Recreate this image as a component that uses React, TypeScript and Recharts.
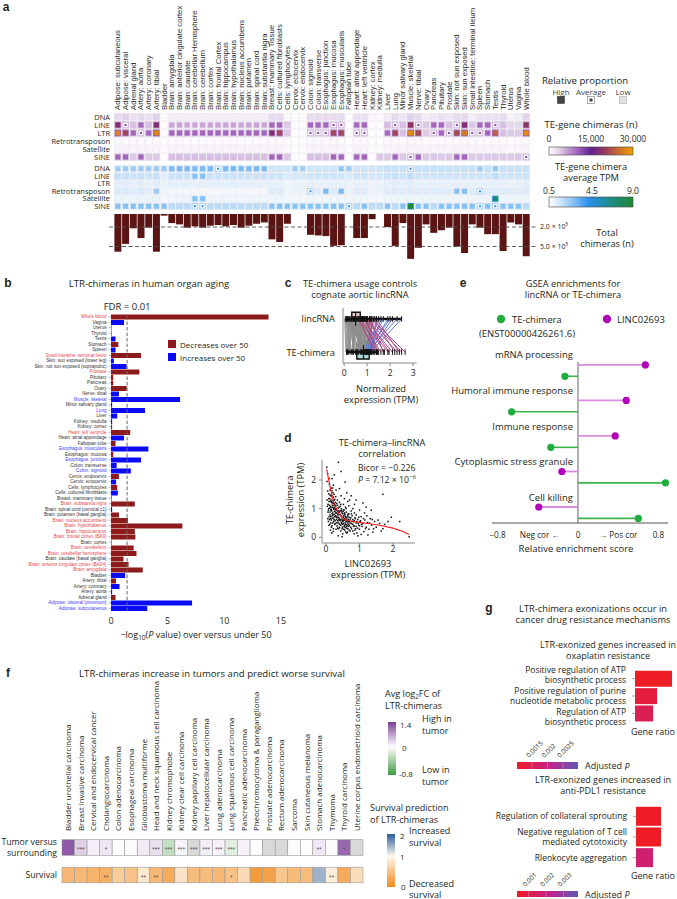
import React from 'react';
import { ScatterChart, Scatter, XAxis, YAxis, BarChart, Bar, Cell, ReferenceLine, ReferenceArea } from 'recharts';

const SANS = '"Open Sans", Roboto, "Noto Sans", sans-serif';
const ARIAL = '"Liberation Sans", Arial, sans-serif';
const INK = '#231f20';

/* ================= panel a data ================= */
const tissues = [
  'Adipose: subcutaneous', 'Adipose: visceral', 'Adrenal gland', 'Artery: aorta', 'Artery: coronary', 'Artery: tibial', 'Bladder',
  'Brain: amygdala', 'Brain: anterior cingulate cortex', 'Brain: caudate', 'Brain: cerebellar Hemisphere', 'Brain: cerebellum',
  'Brain: cortex', 'Brain: frontal Cortex', 'Brain: hippocampus', 'Brain: hypothalamus', 'Brain: nucleus accumbens',
  'Brain: putamen', 'Brain: spinal cord', 'Brain: substantia nigra',
  'Breast: mammary Tissue', 'Cells: cultured fibroblasts', 'Cells: lymphocytes', 'Cervix: ectocervix', 'Cervix: endocervix',
  'Colon: sigmoid', 'Colon: transverse', 'Esophagus: junction', 'Esophagus: mucosa', 'Esophagus: muscularis',
  'Fallopian tube', 'Heart: atrial appendage', 'Heart: left ventricle', 'Kidney: cortex', 'Kidney: medulla',
  'Liver', 'Lung', 'Minor salivary gland', 'Muscle: skeletal', 'Nerve: tibial',
  'Ovary', 'Pancreas', 'Pituitary', 'Prostate', 'Skin: not sun exposed',
  'Skin: sun exposed', 'Small intestine: terminal ileum', 'Spleen', 'Stomach', 'Testis',
  'Thyroid', 'Uterus', 'Vagina', 'Whole blood',
];
const teFamilies = ['DNA', 'LINE', 'LTR', 'Retrotransposon', 'Satellite', 'SINE'];

// TE-gene chimeras (n) per TE family and tissue
const countDNA = [3000, 3500, 2500, 3000, 2500, 3500, 300,
  1200, 1500, 1500, 1500, 1500, 1500, 1500, 1500, 1500, 1500, 1500, 1500, 1500,
  3000, 3000, 600, 400, 400, 3000, 3000, 3000, 3000, 3000, 400, 2500, 2500, 800, 500,
  1500, 3000, 2000, 3500, 3000, 1500, 2000, 2500, 2000, 3000, 3000, 1500, 2500, 2500, 2500,
  3000, 1000, 1500, 3500];
const countLINE = [18000, 12000, 4500, 10000, 4500, 18000, 300,
  6000, 6000, 6000, 6000, 6000, 6000, 6000, 6000, 6000, 6000, 6000, 6000, 6000,
  10000, 10000, 4000, 300, 300, 10000, 10000, 10000, 12000, 12000, 300, 10000, 10000, 300, 300,
  4500, 12000, 4500, 19000, 12000, 4000, 10000, 10000, 4500, 12000, 18000, 4000, 10000, 10000, 12000,
  4500, 3000, 3000, 19000];
const countLTR = [27000, 21000, 10000, 12000, 10000, 27000, 300,
  10000, 10000, 10000, 10000, 10000, 10000, 10000, 10000, 10000, 10000, 10000, 10000, 10000,
  18000, 21000, 4000, 300, 300, 12000, 12000, 12000, 21000, 21000, 300, 12000, 12000, 300, 300,
  10000, 21000, 4500, 28000, 21000, 4000, 12000, 10000, 12000, 21000, 26000, 12000, 12000, 10000, 24000,
  4500, 4000, 4000, 28000];
const countRetro = [600, 600, 500, 600, 500, 600, 200,
  400, 400, 400, 400, 400, 400, 400, 400, 400, 400, 400, 400, 400,
  500, 500, 300, 200, 200, 500, 500, 500, 500, 500, 200, 500, 500, 200, 200,
  400, 500, 400, 600, 500, 400, 400, 400, 400, 500, 500, 400, 400, 400, 500,
  500, 300, 400, 600];
const countSatellite = [1000, 1000, 900, 1000, 900, 1000, 400,
  800, 800, 800, 800, 800, 800, 800, 800, 800, 800, 800, 800, 800,
  900, 900, 500, 400, 400, 900, 900, 900, 900, 900, 400, 900, 900, 400, 400,
  800, 900, 800, 1000, 900, 800, 800, 800, 800, 900, 900, 800, 800, 800, 900,
  900, 600, 800, 1000];
const countSINE = [10000, 10000, 4000, 10000, 4000, 4000, 300,
  4500, 4500, 4500, 4500, 4500, 4500, 4500, 4500, 4500, 4500, 4500, 4500, 4500,
  10000, 10000, 4000, 300, 300, 4500, 4500, 4500, 10000, 10000, 300, 10000, 10000, 300, 4000,
  4000, 10000, 4000, 12000, 10000, 4000, 4000, 4000, 4000, 10000, 10000, 4000, 4000, 4000, 4000,
  4000, 4000, 4000, 12000];
// relative proportion class: H high, A average, L low
const propCountDNA = 'L'.repeat(54);
const propCountLINE = 'HALHLHL' + 'HHHHHHHHHHHHH' + 'HHLLL' + 'HHHAA' + 'LHHLL' + 'LALHA' + 'LHHLA' + 'HLHHA' + 'LLLH';
const propCountLTR = 'HHHAHHL' + 'HHHHHHHHHHHHH' + 'HHLLL' + 'AAAHH' + 'LAALL' + 'HHLHH' + 'LAHAH' + 'HAAHH' + 'LLLH';
const propCountRetro = 'L'.repeat(54);
const propCountSatellite = 'L'.repeat(54);
const propCountSINE = 'HHLHLLL' + 'LLLLLLLLLLLLL' + 'HHLLL' + 'LLLHH' + 'LHHLL' + 'LHLAH' + 'LLLLH' + 'HLLLL' + 'LLLA';

// TE-gene chimera average TPM
const tpmDNA = [2.6, 2.6, 2.6, 2.6, 2.6, 2.6, 2.6,
  3.2, 3.2, 3.2, 3.2, 3.2, 3.2, 4.5, 3.2, 3.2, 3.2, 3.2, 3.2, 3.2,
  1.6, 1.6, 1.5, 2.6, 2.6, 1.6, 1.6, 1.6, 1.6, 2.8, 2.6, 1.6, 1.6, 1.6, 1.6,
  1.8, 1.8, 1.8, 4.5, 1.8, 1.8, 1.8, 1.8, 1.8, 1.8, 1.8, 1.8, 2.6, 1.8, 2.8,
  1.8, 1.8, 1.8, 1.8];
const tpmLINE = [1.8, 1.8, 1.6, 1.8, 1.6, 1.8, 1.2,
  1.7, 1.7, 1.7, 3.0, 3.0, 1.7, 1.7, 1.7, 1.7, 1.7, 1.7, 1.7, 1.7,
  1.6, 1.6, 1.3, 1.5, 1.5, 1.6, 1.6, 1.6, 1.6, 1.6, 1.4, 1.6, 1.6, 1.5, 1.5,
  1.6, 1.8, 1.6, 1.9, 1.6, 1.6, 1.6, 1.6, 1.6, 1.6, 1.6, 1.6, 1.6, 1.6, 1.9,
  1.6, 1.6, 1.6, 1.7];
const tpmLTR = [1.2, 1.2, 1.1, 1.2, 1.1, 1.2, 1.0,
  1.1, 1.1, 1.1, 1.1, 1.1, 1.1, 1.1, 1.1, 1.1, 1.1, 1.1, 1.1, 1.1,
  1.1, 1.1, 0.9, 1.0, 1.0, 1.1, 1.1, 1.1, 1.1, 1.1, 1.0, 1.1, 1.1, 1.0, 1.0,
  1.1, 1.2, 1.1, 1.2, 1.1, 1.1, 1.1, 1.1, 1.1, 1.1, 1.1, 1.1, 1.1, 1.1, 1.1,
  1.1, 1.0, 1.1, 1.2];
const tpmRetro = [1.4, 1.4, 1.3, 1.4, 1.3, 2.6, 0.9,
  0.8, 0.8, 0.8, 0.8, 0.8, 0.8, 0.8, 0.8, 0.8, 0.8, 0.8, 0.8, 0.8,
  1.3, 1.3, 0.9, 1.0, 1.0, 4.5, 1.3, 3.2, 1.3, 3.2, 1.0, 1.3, 1.3, 1.0, 1.0,
  1.3, 1.3, 1.3, 1.3, 1.3, 1.3, 1.3, 1.3, 1.3, 3.0, 3.0, 1.3, 4.5, 1.3, 1.3,
  1.3, 1.3, 1.3, 1.3];
const tpmSatellite = [1.0, 1.0, 1.0, 1.0, 1.0, 1.0, 0.8,
  0.9, 0.9, 0.9, 3.0, 3.0, 0.9, 0.9, 0.9, 0.9, 0.9, 0.9, 0.9, 0.9,
  0.9, 0.9, 0.8, 0.8, 0.8, 0.9, 0.9, 0.9, 0.9, 0.9, 0.8, 0.9, 0.9, 0.8, 0.8,
  0.9, 0.9, 0.9, 0.9, 0.9, 0.9, 0.9, 0.9, 0.9, 0.9, 0.9, 0.9, 0.9, 0.9, 7.5,
  0.9, 0.9, 0.9, 0.9];
const tpmSINE = [3.0, 3.0, 3.0, 3.0, 3.0, 3.0, 3.0,
  2.0, 2.0, 2.0, 4.5, 4.5, 2.0, 2.0, 2.0, 2.0, 2.0, 2.0, 2.0, 2.0,
  3.0, 3.0, 3.0, 3.0, 3.0, 3.0, 3.0, 3.0, 3.0, 3.0, 4.5, 2.0, 3.0, 2.0, 2.0,
  3.0, 2.0, 3.0, 9.0, 3.0, 3.0, 2.0, 3.0, 3.0, 3.0, 3.0, 3.0, 4.5, 3.0, 4.5,
  3.0, 3.0, 3.0, 2.0];
const propTpmDNA = 'HHHHHHH' + 'HHHHHHAHHHHHH' + 'LLLHH' + 'LLLLH' + 'HLLLL' + 'LLLAL' + 'LLLLL' + 'LLHLH' + 'LLLL';
const propTpmLINE = 'LLLLLLL' + 'LLLHHLLLLLLLL' + 'L'.repeat(30) + 'LLLL';
const propTpmLTR = 'L'.repeat(54);
const propTpmRetro = 'LLLLLHL' + 'LLLLLLLLLLLLL' + 'LLLLL' + 'ALHLH' + 'LLLLL' + 'LLLLL' + 'LLLLH' + 'HLALL' + 'LLLL';
const propTpmSatellite = 'LLLLLLL' + 'LLLHHLLLLLLLL' + 'L'.repeat(25) + 'LLLLH' + 'LLLL';
const propTpmSINE = 'HHHHHHH' + 'LLLAALLLLLLLL' + 'HHHHH' + 'HHHHH' + 'ALHLL' + 'HLHHH' + 'HLHHH' + 'HHAHA' + 'HHHL';

const totalChimeras = [580000, 460000, 220000, 370000, 210000, 580000, 25000,
  140000, 160000, 210000, 190000, 210000, 180000, 170000, 190000, 170000, 210000, 180000, 150000, 130000,
  390000, 430000, 150000, 0, 0, 320000, 330000, 340000, 490000, 480000, 0, 370000, 370000, 80000, 0,
  200000, 490000, 140000, 690000, 520000, 160000, 290000, 250000, 210000, 500000, 600000, 160000, 210000, 310000, 310000,
  570000, 130000, 160000, 650000];

/* ================= panel b data ================= */
const agingTissues = ['Whole blood', 'Vagina', 'Uterus', 'Thyroid', 'Testis', 'Stomach', 'Spleen',
  'Small intestine: terminal ileum', 'Skin: sun exposed (lower leg)', 'Skin: not sun exposed (suprapubic)', 'Prostate',
  'Pituitary', 'Pancreas', 'Ovary', 'Nerve: tibial', 'Muscle: skeletal', 'Minor salivary gland', 'Lung', 'Liver',
  'Kidney: medulla', 'Kidney: cortex', 'Heart: left ventricle', 'Heart: atrial appendage', 'Fallopian tube',
  'Esophagus: muscularis', 'Esophagus: mucosa', 'Esophagus: junction', 'Colon: transverse', 'Colon: sigmoid',
  'Cervix: endocervix', 'Cervix: ectocervix', 'Cells: lymphocytes', 'Cells: cultured fibroblasts', 'Breast: mammary tissue',
  'Brain: substantia nigra', 'Brain: spinal cord (cervical c1)', 'Brain: putamen (basal ganglia)', 'Brain: nucleus accumbens',
  'Brain: hypothalamus', 'Brain: hippocampus', 'Brain: frontal cortex (BA9)', 'Brain: cortex', 'Brain: cerebellum',
  'Brain: cerebellar hemisphere', 'Brain: caudate (basal ganglia)', 'Brain: anterior cingulate cortex (BA24)', 'Brain: amygdala',
  'Bladder', 'Artery: tibial', 'Artery: coronary', 'Artery: aorta', 'Adrenal gland', 'Adipose: visceral (omentum)', 'Adipose: subcutaneous'];
const agingLogP = [13.9, 1.15, 0.05, 0.05, 0.4, 0.65, 0.4, 2.65, 0.25, 1.38, 2.5, 0.2, 0.2, 1.38, 0.7, 6.1, 0.1, 3.0, 0.55, 0.1,
  0.1, 1.7, 1.15, 0.4, 3.3, 0.2, 2.65, 0.5, 1.75, 0.7, 0.45, 0.55, 0.6, 0.05, 2.1, 0.1, 0.7, 1.5, 6.3, 2.1,
  2.15, 0.05, 2.0, 2.25, 1.1, 1.55, 2.8, 1.25, 0.45, 0.75, 0.1, 0.4, 7.15, 3.2];
const agingDirection = ['d', 'i', 'd', 'd', 'i', 'd', 'i', 'd', 'i', 'i', 'd', 'd', 'd', 'd', 'i', 'i', 'i', 'i', 'i', 'i',
  'd', 'd', 'i', 'd', 'i', 'd', 'i', 'i', 'i', 'd', 'i', 'd', 'i', 'i', 'd', 'i', 'd', 'd', 'd', 'd',
  'd', 'd', 'd', 'd', 'd', 'd', 'd', 'i', 'd', 'i', 'i', 'd', 'i', 'i'];
const fdrThreshold = 1.42;
const agingTicks = [0, 5, 10, 15];

/* ================= panel c data ================= */
const pairLinc = [0.05, 0.1, 0.15, 0.2, 0.25, 0.3, 0.35, 0.4, 0.45, 0.5, 0.55, 0.6, 0.65, 0.7, 0.75, 0.8, 0.9, 1.0, 1.1, 0.12, 0.22, 0.33, 0.85, 1.2, 0.95, 0.42,
  1.3, 1.5, 1.7, 1.9, 2.1, 2.3, 2.5, 1.4, 2.0, 1.6,
  0.6, 0.7, 0.8, 0.9, 1.0, 1.1, 1.2, 0.75, 0.85, 1.0, 1.3, 1.4, 0.65, 0.95, 1.15];
const pairTE = [0.1, 0.3, 0.5, 0.15, 0.6, 0.8, 0.4, 0.9, 0.7, 1.0, 0.35, 1.1, 0.75, 0.55, 1.2, 0.95, 1.3, 0.85, 1.0, 0.95, 1.05, 0.2, 0.6, 1.1, 1.4, 1.2,
  0.9, 0.95, 1.0, 1.05, 1.1, 1.0, 1.15, 1.2, 0.95, 1.1,
  1.4, 1.6, 1.9, 2.1, 2.3, 2.5, 2.65, 1.5, 1.75, 1.95, 2.2, 2.4, 1.3, 1.45, 1.7];
const pairGroup = [
  'o', 'o', 'o', 'o', 'o', 'o', 'o', 'o', 'o', 'o', 'o', 'o', 'o', 'o', 'o', 'o', 'o', 'o', 'o', 'o', 'o', 'o', 'o', 'o', 'o', 'o',
  'linc', 'linc', 'linc', 'linc', 'linc', 'linc', 'linc', 'linc', 'linc', 'linc',
  'te', 'te', 'te', 'te', 'te', 'te', 'te', 'te', 'te', 'te', 'te', 'te', 'te', 'te', 'te'];
const boxLinc = [0.33, 0.5, 0.7];
const boxTE = [0.55, 0.84, 1.09];
const cRows = ['TE-chimera', 'lincRNA'];

/* ================= panel d data ================= */
const corrPoints = [
  [0.05, 1.62], [0.08, 1.35], [0.1, 1.12], [0.12, 1.48], [0.14, 0.95], [0.15, 1.72], [0.17, 1.21], [0.18, 0.82], [0.2, 1.05], [0.21, 1.55],
  [0.22, 0.68], [0.24, 1.3], [0.25, 0.9], [0.26, 1.15], [0.28, 0.75], [0.29, 1.42], [0.06, 0.88], [0.09, 0.72], [0.11, 1.02], [0.13, 1.25],
  [0.16, 0.6], [0.19, 1.38], [0.23, 0.98], [0.27, 0.58], [0.04, 1.08], [0.07, 0.55], [0.12, 0.78], [0.15, 1.05], [0.18, 1.62], [0.2, 0.85],
  [0.23, 1.18], [0.26, 0.72], [0.3, 1.0], [0.1, 1.85], [0.14, 1.45], [0.17, 0.92], [0.21, 1.28], [0.24, 0.62], [0.27, 1.08], [0.29, 0.85],
  [0.03, 1.3], [0.08, 1.0], [0.13, 0.65], [0.19, 0.75], [0.22, 1.4], [0.25, 1.02], [0.28, 1.22], [0.11, 0.45], [0.16, 0.35], [0.2, 0.5],
  [0.31, 0.62], [0.32, 0.95], [0.33, 0.4], [0.34, 1.12], [0.35, 0.78], [0.36, 0.52], [0.37, 0.88], [0.38, 0.3], [0.39, 1.05], [0.4, 0.66],
  [0.41, 0.45], [0.42, 0.92], [0.43, 0.58], [0.44, 0.22], [0.45, 0.75], [0.46, 1.0], [0.47, 0.48], [0.48, 0.64], [0.49, 0.35], [0.5, 0.82],
  [0.51, 0.55], [0.52, 0.7], [0.53, 0.28], [0.54, 0.95], [0.55, 0.6], [0.56, 0.42], [0.57, 0.78], [0.58, 0.5], [0.59, 0.18], [0.6, 0.68],
  [0.61, 0.88], [0.62, 0.38], [0.63, 0.56], [0.64, 0.72], [0.65, 0.3], [0.66, 0.62], [0.67, 0.45], [0.68, 0.82], [0.69, 0.25], [0.7, 0.55],
  [0.32, 0.72], [0.35, 0.32], [0.38, 0.62], [0.41, 0.8], [0.44, 0.42], [0.47, 0.9], [0.5, 0.12], [0.53, 0.48], [0.56, 0.85], [0.59, 0.62],
  [0.62, 0.15], [0.65, 0.78], [0.68, 0.55], [0.34, 1.3], [0.4, 1.22], [0.45, 1.45], [0.52, 1.15], [0.58, 1.05], [0.36, 0.05], [0.48, 0.02],
  [0.72, 0.62], [0.74, 0.35], [0.76, 0.48], [0.78, 0.75], [0.8, 0.22], [0.82, 0.55], [0.84, 0.4], [0.86, 0.68], [0.88, 0.3], [0.9, 0.5],
  [0.92, 0.15], [0.95, 0.62], [0.98, 0.42], [1.0, 0.28], [1.02, 0.55], [1.05, 0.72], [1.08, 0.38], [1.1, 0.48], [1.13, 0.2], [1.16, 0.6],
  [1.2, 0.35], [1.24, 0.52], [1.28, 0.28], [1.32, 0.65], [1.36, 0.42], [1.4, 0.18], [1.45, 0.55], [1.5, 0.35], [0.75, 0.92], [0.85, 0.85],
  [0.95, 0.05], [1.05, 0.1], [0.8, 1.0], [1.15, 0.85], [1.25, 0.08], [0.9, 0.78], [1.0, 0.95], [1.6, 0.48], [1.7, 0.3], [1.85, 0.55],
  [0.02, 2.45], [0.05, 2.22], [0.09, 2.05], [0.03, 1.95], [0.18, 2.05], [0.25, 2.18], [0.37, 2.62], [0.57, 1.93], [0.22, 1.82], [0.4, 1.7],
  [0.65, 1.25], [0.75, 1.45], [1.1, 1.2], [1.7, 1.5], [1.35, 0.95], [2.2, 0.55], [2.48, 0.02], [1.95, 0.7], [0.3, 1.65], [0.45, 2.3],
  [0.06, 1.15], [0.07, 0.95], [0.09, 1.25], [0.1, 0.62], [0.11, 1.35], [0.12, 0.88], [0.13, 1.08], [0.14, 0.72], [0.15, 1.3], [0.16, 0.98],
  [0.17, 1.45], [0.18, 0.66], [0.19, 1.12], [0.2, 1.2], [0.21, 0.78], [0.22, 1.02], [0.23, 0.55], [0.24, 1.12], [0.25, 0.8], [0.26, 1.32],
  [0.27, 0.92], [0.28, 0.48], [0.29, 1.1], [0.3, 0.72], [0.31, 0.85], [0.32, 1.18], [0.33, 0.68], [0.34, 0.9], [0.35, 0.58], [0.36, 1.02],
  [0.37, 0.7], [0.38, 0.92], [0.39, 0.48], [0.4, 0.88], [0.41, 0.6], [0.42, 1.08], [0.43, 0.78], [0.44, 0.62], [0.45, 0.95], [0.46, 0.52],
  [0.47, 0.72], [0.48, 0.85], [0.49, 0.58], [0.5, 0.45], [0.51, 0.9], [0.52, 0.6], [0.53, 0.75], [0.54, 0.38], [0.55, 0.82], [0.56, 0.65],
  [0.57, 0.35], [0.58, 0.72], [0.59, 0.45], [0.6, 0.55], [0.61, 0.32], [0.62, 0.68], [0.63, 0.42], [0.64, 0.58], [0.65, 0.5], [0.66, 0.8],
  [0.67, 0.62], [0.68, 0.38], [0.69, 0.7], [0.7, 0.42], [0.72, 0.5], [0.74, 0.68], [0.76, 0.3], [0.78, 0.55], [0.8, 0.62], [0.82, 0.38],
  [0.84, 0.58], [0.86, 0.25], [0.88, 0.65], [0.9, 0.38], [0.92, 0.55], [0.94, 0.32], [0.96, 0.48], [0.98, 0.7], [1.0, 0.4], [1.03, 0.58],
  [0.08, 1.52], [0.12, 1.65], [0.16, 1.25], [0.2, 1.72], [0.24, 1.5], [0.28, 0.98], [0.32, 0.5], [0.36, 0.82], [0.4, 0.35], [0.44, 1.15],
  [0.48, 0.3], [0.52, 0.95], [0.56, 0.25], [0.6, 1.0], [0.64, 0.18], [0.68, 1.1], [0.72, 0.22], [0.76, 0.82], [0.8, 0.45], [0.84, 0.12],
  [0.14, 0.5], [0.18, 0.4], [0.22, 0.3], [0.26, 0.45], [0.3, 0.28], [0.05, 0.65], [0.09, 0.42], [0.13, 0.25], [0.17, 0.15], [0.21, 0.2],
  [1.06, 0.45], [1.12, 0.65], [1.18, 0.3], [1.22, 0.75], [1.3, 0.5], [1.38, 0.62], [1.42, 0.3], [1.55, 0.6], [1.65, 0.22], [1.75, 0.45],
  [0.7, 1.3], [0.85, 1.15], [0.55, 1.35], [0.62, 1.55], [1.2, 1.05], [0.9, 1.3],
];
const corrFit = [[0.02, 2.38], [0.08, 2.0], [0.15, 1.6], [0.22, 1.28], [0.3, 1.02], [0.4, 0.8], [0.5, 0.67], [0.6, 0.6], [0.8, 0.55],
  [1.0, 0.52], [1.3, 0.47], [1.6, 0.42], [2.0, 0.32], [2.3, 0.2], [2.48, 0.1]];

/* ================= panel e data ================= */
const gseaTerms = ['mRNA processing', 'Humoral immune response', 'Immune response', 'Cytoplasmic stress granule', 'Cell killing'];
const lincScore = [0.67, 0.48, 0.37, -0.16, -0.39];
const teScore = [-0.13, -0.66, -0.27, 0.87, 0.6];
const eTickLabels: Record<string, string> = { '-0.8': '−0.8', '-0.38': 'Neg cor ←', '0': '0', '0.4': '→ Pos cor', '0.8': '0.8' };

/* ================= panel f data ================= */
const cancers = ['Bladder urothelial carcinoma', 'Breast invasive carcinoma', 'Cervical and endocervical cancer', 'Cholangiocarcinoma',
  'Colon adenocarcinoma', 'Esophageal carcinoma', 'Glioblastoma multiforme', 'Head and neck squamous cell carcinoma', 'Kidney chromophobe',
  'Kidney clear cell carcinoma', 'Kidney papillary cell carcinoma', 'Liver hepatocellular carcinoma', 'Lung adenocarcinoma',
  'Lung squamous cell carcinoma', 'Pancreatic adenocarcinoma', 'Pheochromocytoma & paraganglioma', 'Prostate adenocarcinoma',
  'Rectum adenocarcinoma', 'Sarcoma', 'Skin cutaneous melanoma', 'Stomach adenocarcinoma', 'Thymoma', 'Thyroid carcinoma',
  'Uterine corpus endometrioid carcinoma'];
const tumorLog2FC = [1.2, 0.35, 0.12, 0.18, 0.02, 0.03, 0.15, 0.22, -0.25, 0.08, null, 0.12, 0.08, -0.12, 0.1, 0.02, null, null, 0.02, 0.02, 0.15, 0.03, 1.1, null];
const tumorStars = ['', '***', '', '*', '', '', '', '***', '***', '***', '***', '***', '***', '***', '', '', '', '', '', '', '**', '', '*', ''];
const survivalScore = [0.42, 0.42, 0.38, 0.35, 0.6, 0.5, 0.85, 0.42, 0.3, 0.8, 0.45, 0.45, 0.42, 0.5, 0.72, 0.15, 0.22, 0.55, 0.45, 0.45, 1.45, 0.9, 0.3, 0.75];
const survivalStars = ['', '', '', '**', '', '', '**', '**', '', '', '', '', '', '*', '', '', '', '', '', '', '', '**', '', ''];
const fRowLabels = [['Tumor versus', 'surrounding'], ['Survival']];

/* ================= panel g data ================= */
const oxaTerms = ['Positive regulation of ATP\nbiosynthetic process', 'Positive regulation of purine\nnucleotide metabolic process', 'Regulation of ATP\nbiosynthetic process'];
const oxaGeneRatio = [0.19, 0.113, 0.093];
const oxaPadj = [0.001, 0.00125, 0.0015];
const pdlTerms = ['Regulation of collateral sprouting', 'Negative regulation of T cell\nmediated cytotoxicity', 'Rleokocyte aggregation'];
const pdlGeneRatio = [0.1, 0.1, 0.068];
const pdlPadj = [0.0004, 0.0004, 0.0017];

/* ================= colour scales ================= */
type Stops = [number, string][];
const purpleStops: Stops = [[0, '#ffffff'], [3000, '#e7daee'], [6000, '#c7a6d6'], [10000, '#a465be'], [15000, '#5e2290'], [19000, '#8b3563'], [23000, '#b85a45'], [30000, '#f5a300']];
const blueStops: Stops = [[0.5, '#ffffff'], [1, '#e9f3fc'], [2, '#bddcf7'], [3, '#86c1f3'], [4.5, '#2b8fee'], [7, '#1c8b7a'], [9, '#1e8a34']];
const fcStops: Stops = [[-0.8, '#3f9a40'], [0, '#ffffff'], [1.4, '#7b3f98']];
const survStops: Stops = [[0, '#f08a1a'], [1, '#fff8f0'], [2, '#2a5c9c']];
const padjStops1: Stops = [[0.001, '#ee1c24'], [0.0021, '#c4228c'], [0.003, '#5a5ab4']];
const padjStops2: Stops = [[0.00037, '#ee1c24'], [0.0022, '#c4228c'], [0.0038, '#5a5ab4']];

const hex = (h: string) => [parseInt(h.slice(1, 3), 16), parseInt(h.slice(3, 5), 16), parseInt(h.slice(5, 7), 16)];
const interp = (stops: Stops, v: number) => {
  if (v <= stops[0][0]) return stops[0][1];
  for (let i = 1; i < stops.length; i++) {
    if (v <= stops[i][0]) {
      const t = (v - stops[i - 1][0]) / (stops[i][0] - stops[i - 1][0]);
      const a = hex(stops[i - 1][1]);
      const b = hex(stops[i][1]);
      return `rgb(${Math.round(a[0] + (b[0] - a[0]) * t)},${Math.round(a[1] + (b[1] - a[1]) * t)},${Math.round(a[2] + (b[2] - a[2]) * t)})`;
    }
  }
  return stops[stops.length - 1][1];
};

/* ================= derived tables ================= */
const countRows = [countDNA, countLINE, countLTR, countRetro, countSatellite, countSINE];
const countProps = [propCountDNA, propCountLINE, propCountLTR, propCountRetro, propCountSatellite, propCountSINE];
const tpmRows = [tpmDNA, tpmLINE, tpmLTR, tpmRetro, tpmSatellite, tpmSINE];
const tpmProps = [propTpmDNA, propTpmLINE, propTpmLTR, propTpmRetro, propTpmSatellite, propTpmSINE];
const countCells = countRows.flatMap((row, r) => row.map((v, c) => ({ c, r, v, p: countProps[r][c] })));
const tpmCells = tpmRows.flatMap((row, r) => row.map((v, c) => ({ c, r, v, p: tpmProps[r][c] })));
const totalData = tissues.map((t, i) => ({ t, n: totalChimeras[i] }));
const agingData = agingTissues.map((name, i) => ({ name, v: agingLogP[i], dir: agingDirection[i] }));
const fCells = [
  ...cancers.map((name, c) => ({ c, r: 0, v: tumorLog2FC[c], s: tumorStars[c] })),
  ...cancers.map((name, c) => ({ c, r: 1, v: survivalScore[c], s: survivalStars[c] })),
];

/* ================= shapes & ticks ================= */
const A_CW = (530 - 114) / 54;
const makeTECell = (stops: Stops, ch: number, tintK: number) => (props: any) => {
  const { cx, cy, payload } = props;
  if (cx == null || cy == null) return <g />;
  const w = A_CW - 0.8;
  const h = ch - 0.8;
  const col = interp(stops, payload.v);
  const tint = interp(stops, payload.v * tintK);
  const m = Math.min(w, h);
  const bg = <rect x={cx - w / 2} y={cy - h / 2} width={w} height={h} fill={payload.p === 'L' ? col : tint} stroke="#e2dde4" strokeWidth={0.3} />;
  if (payload.p === 'L') return bg;
  if (payload.p === 'H') {
    const s = m * 0.74;
    return <g>{bg}<rect x={cx - s / 2} y={cy - s / 2} width={s} height={s} fill={col} /></g>;
  }
  const s1 = m * 0.66;
  const s2 = m * 0.3;
  return <g>{bg}<rect x={cx - s1 / 2} y={cy - s1 / 2} width={s1} height={s1} fill="#ffffff" /><rect x={cx - s2 / 2} y={cy - s2 / 2} width={s2} height={s2} fill={col} /></g>;
};
const purpleCell = makeTECell(purpleStops, 8, 0.42);
const blueCell = makeTECell(blueStops, 7.5, 0.5);

const TissueTick = (props: any) => (
  <text transform={`translate(${props.x + 2.5},110) rotate(-90) scale(1.1,1)`} fontSize={7.0} fontFamily={ARIAL} fill="#2a2a2a" textAnchor="start">
    {tissues[props.payload.value]}
  </text>
);
const makeFamilyTick = (size: number, stretch: number) => (props: any) => (
  <text transform={`translate(110,${props.y}) scale(${stretch},1)`} fontSize={size} fontFamily={SANS} fill={INK} textAnchor="end" dominantBaseline="central">
    {teFamilies[props.payload.value]}
  </text>
);
const FamilyTickCount = makeFamilyTick(6.8, 1.1);
const FamilyTickTpm = makeFamilyTick(6.3, 1.18);
const extendedDash = (p: any) => (
  <line x1={p.x1 - 5} y1={p.y1} x2={p.x2 + 7} y2={p.y2} stroke="#4a4a4a" strokeWidth={0.9} strokeDasharray="4 2.5" />
);

const AgingTick = (props: any) => {
  const i = agingTissues.indexOf(props.payload.value);
  const sig = agingLogP[i] > fdrThreshold;
  const fill = sig ? (agingDirection[i] === 'd' ? '#e8474b' : '#3d3dff') : '#333';
  return (
    <text x={props.x} y={props.y} fontSize={4.6} fontFamily={ARIAL} textAnchor="end" dominantBaseline="central" fill={fill}>
      {props.payload.value}
    </text>
  );
};

const CRowTick = (props: any) => (
  <text x={55} y={props.y} fontSize={9.3} fontFamily={SANS} textAnchor="end" dominantBaseline="central" fill={INK}>
    {cRows[props.payload.value]}
  </text>
);
const rugShape = (p: any) => <line x1={p.cx} x2={p.cx} y1={p.cy - 2.8} y2={p.cy + 2.8} stroke="#111" strokeWidth={1} />;
const dotShape = (p: any) => <rect x={p.cx - 0.75} y={p.cy - 0.75} width={1.5} height={1.5} fill="#111" />;
const noShape = () => <g />;

const ETick = (props: any) => (
  <text x={props.x} y={props.y + 3} fontSize={8.2} fontFamily={SANS} textAnchor="middle" dominantBaseline="central" fill={INK}>
    {eTickLabels[String(props.payload.value)]}
  </text>
);
const eLabelShape = (p: any) => (
  <text x={p.cx - 5} y={p.cy} fontSize={9.5} fontFamily={SANS} textAnchor="end" dominantBaseline="central" fill={INK}>
    {p.payload.label}
  </text>
);
const makeDot = (fill: string) => (p: any) => <circle cx={p.cx} cy={p.cy} r={3.6} fill={fill} />;

const F_CW = (363 - 62) / 24;
const fCellShape = (p: any) => {
  const { cx, cy, payload } = p;
  const fill = payload.r === 0 ? (payload.v == null ? '#d9d9d9' : interp(fcStops, payload.v)) : interp(survStops, payload.v);
  return (
    <g>
      <rect x={cx - F_CW / 2} y={cy - 7.8} width={F_CW} height={15.6} fill={fill} stroke="#9a9a9a" strokeWidth={0.6} />
      {payload.s ? <text x={cx} y={cy + 2.2} fontSize={6.5} fontFamily={ARIAL} textAnchor="middle" dominantBaseline="central" fill="#555">{payload.s}</text> : null}
    </g>
  );
};
const CancerTick = (props: any) => (
  <text transform={`translate(${props.x + 3},151) rotate(-90)`} fontSize={7.9} fontFamily={SANS} fill={INK} textAnchor="start">
    {cancers[props.payload.value]}
  </text>
);
const FRowTick = (props: any) => {
  const lines = fRowLabels[props.payload.value];
  return (
    <text x={57} y={props.y} fontSize={8.7} fontFamily={SANS} textAnchor="end" fill={INK}>
      {lines.map((l, i) => (
        <tspan key={i} x={57} dy={i === 0 ? -(lines.length - 1) * 5.4 + 3.1 : 10.8}>{l}</tspan>
      ))}
    </text>
  );
};
const makeGTick = (mid: number, spread: number) => (props: any) => {
  const lines = String(props.payload.value).split('\n');
  const cy = mid + (props.y - mid) * spread;
  return (
    <text x={props.x} y={cy} fontSize={8.5} fontFamily={SANS} textAnchor="end" fill={INK}>
      {lines.map((l, i) => (
        <tspan key={i} x={props.x} dy={i === 0 ? -(lines.length - 1) * 5.2 + 3 : 10.4}>{l}</tspan>
      ))}
    </text>
  );
};
const GTick1 = makeGTick(31, 1.22);
const GTick2 = makeGTick(37, 1.0);

/* ================= panels ================= */
const abs = (left: number, top: number, child: React.ReactNode) => (
  <div style={{ position: 'absolute', left, top }}>{child}</div>
);

const PanelA = () => (
  <>
    {abs(0, 0,
      <ScatterChart width={540} height={161} margin={{ top: 0, right: 10, bottom: 0, left: 0 }}>
        <XAxis type="number" dataKey="c" domain={[-0.5, 53.5]} ticks={tissues.map((_, i) => i)} interval={0} orientation="top" height={113} axisLine={false} tickLine={false} tick={<TissueTick />} />
        <YAxis type="number" dataKey="r" domain={[-0.5, 5.5]} reversed ticks={[0, 1, 2, 3, 4, 5]} interval={0} width={114} axisLine={false} tickLine={false} tick={<FamilyTickCount />} />
        <Scatter data={countCells} shape={purpleCell} isAnimationActive={false} />
      </ScatterChart>)}
    {abs(0, 165,
      <ScatterChart width={540} height={45} margin={{ top: 0, right: 10, bottom: 0, left: 0 }}>
        <XAxis type="number" dataKey="c" domain={[-0.5, 53.5]} hide />
        <YAxis type="number" dataKey="r" domain={[-0.5, 5.5]} reversed ticks={[0, 1, 2, 3, 4, 5]} interval={0} width={114} axisLine={false} tickLine={false} tick={<FamilyTickTpm />} />
        <Scatter data={tpmCells} shape={blueCell} isAnimationActive={false} />
      </ScatterChart>)}
    {abs(0, 200,
      <BarChart width={677} height={75} data={totalData} margin={{ top: 14, right: 147, bottom: 9, left: 114 }} barCategoryGap={0.4}>
        <XAxis dataKey="t" hide />
        <YAxis type="number" domain={[0, 800000]} reversed hide />
        <Bar dataKey="n" fill="#5b1414" isAnimationActive={false} />
        <ReferenceLine y={200000} shape={extendedDash} label={{ value: '2.0 × 10⁵', position: 'right', offset: 10, fontSize: 7, fill: INK, fontFamily: SANS }} />
        <ReferenceLine y={500000} shape={extendedDash} label={{ value: '5.0 × 10⁵', position: 'right', offset: 10, fontSize: 7, fill: INK, fontFamily: SANS }} />
      </BarChart>)}
  </>
);

const PanelB = () => abs(0, 300,
  <BarChart layout="vertical" width={300} height={340} data={agingData} margin={{ top: 14, right: 19, bottom: 0, left: 0 }} barCategoryGap={0.5}>
    <XAxis type="number" domain={[0, 15]} ticks={agingTicks} height={29} axisLine={false} tickLine={false} tickSize={4} tickMargin={2.5} tick={{ fontSize: 9, fill: INK, fontFamily: SANS }} />
    <YAxis type="category" dataKey="name" width={111} interval={0} axisLine={false} tickLine={{ stroke: '#777', strokeWidth: 0.5 }} tickSize={2.5} tick={<AgingTick />} />
    <Bar dataKey="v" isAnimationActive={false}>
      {agingData.map((d, i) => <Cell key={i} fill={d.dir === 'd' ? '#8e1b1b' : '#0a0af5'} />)}
    </Bar>
    <ReferenceLine x={fdrThreshold} stroke="#666" strokeDasharray="3.5 2" label={{ value: 'FDR = 0.01', position: 'top', offset: 4, fontSize: 9.5, fill: INK, fontFamily: SANS }} />
  </BarChart>);

const PanelC = () => {
  const lincMin = Math.min(...pairLinc);
  const lincMax = Math.max(...pairLinc);
  const teMin = Math.min(...pairTE);
  const teMax = Math.max(...pairTE.filter((_, i) => pairGroup[i] !== 'te'));
  const colorOf: Record<string, string> = { o: '#8d8d8d', linc: '#5a78e0', te: '#b04a82' };
  const seg = (i: number) => (
    <ReferenceLine key={`s${i}`} segment={[{ x: pairLinc[i], y: 1 }, { x: pairTE[i], y: 0 }]}
      stroke={colorOf[pairGroup[i]]} strokeWidth={pairGroup[i] === 'o' ? 2.2 : 1} strokeOpacity={pairGroup[i] === 'o' ? 0.85 : 0.95} />
  );
  const idx = pairLinc.map((_, i) => i);
  return abs(280, 300,
    <ScatterChart width={150} height={90} margin={{ top: 8, right: 13.4, bottom: 0, left: 0 }}>
      <XAxis type="number" dataKey="x" domain={[-0.05, 3.15]} ticks={[0, 1, 2, 3]} interval={0} height={27} stroke="#888" tickSize={3} tickMargin={4} tick={{ fontSize: 8.5, fill: INK, fontFamily: SANS }} />
      <YAxis type="number" dataKey="y" domain={[-0.33, 1.33]} ticks={[0, 1]} interval={0} width={63} stroke="#888" tickLine={false} tick={<CRowTick />} />
      {idx.filter((i) => pairGroup[i] === 'o').map(seg)}
      <ReferenceLine segment={[{ x: lincMin, y: 1 }, { x: lincMax, y: 1 }]} stroke="#111" strokeWidth={2.6} />
      <ReferenceLine segment={[{ x: teMin, y: 0 }, { x: teMax, y: 0 }]} stroke="#111" strokeWidth={2.6} />
      <Scatter data={pairLinc.map((x) => ({ x, y: 1 }))} shape={rugShape} isAnimationActive={false} />
      <Scatter data={pairTE.map((x) => ({ x, y: 0 }))} shape={rugShape} isAnimationActive={false} />
      {idx.filter((i) => pairGroup[i] !== 'o').map(seg)}
      <ReferenceArea x1={boxLinc[0]} x2={boxLinc[2]} y1={0.8} y2={1.2} fill="#e9c9c9" fillOpacity={1} stroke="#111" strokeWidth={1.4} />
      <ReferenceLine segment={[{ x: boxLinc[1], y: 0.8 }, { x: boxLinc[1], y: 1.2 }]} stroke="#111" strokeWidth={1.2} />
      <ReferenceArea x1={boxTE[0]} x2={boxTE[2]} y1={-0.21} y2={0.21} fill="#a9d9d2" fillOpacity={1} stroke="#111" strokeWidth={1.4} />
      <ReferenceLine segment={[{ x: boxTE[1], y: -0.21 }, { x: boxTE[1], y: 0.21 }]} stroke="#111" strokeWidth={1.2} />
    </ScatterChart>);
};

const PanelD = () => abs(270, 455,
  <ScatterChart width={150} height={100} margin={{ top: 5, right: 5.2, bottom: 0, left: 0 }}>
    <XAxis type="number" dataKey="x" domain={[-0.12, 2.65]} ticks={[0, 1, 2]} interval={0} height={12} stroke="#888" tickSize={2} tickMargin={1} tick={{ fontSize: 8.5, fill: INK, fontFamily: SANS }} />
    <YAxis type="number" dataKey="y" domain={[-0.2, 2.7]} ticks={[0, 1, 2]} interval={0} width={52} stroke="#888" tickSize={3} tickMargin={3} tick={{ fontSize: 8.5, fill: INK, fontFamily: SANS }} />
    <Scatter data={corrPoints.map(([x, y]) => ({ x, y }))} shape={dotShape} isAnimationActive={false} />
    <Scatter data={corrFit.map(([x, y]) => ({ x, y }))} shape={noShape} line={{ stroke: '#ff1a1a', strokeWidth: 1.1 }} isAnimationActive={false} />
  </ScatterChart>);

const PanelE = () => {
  const lincPts = lincScore.map((x, k) => ({ x, y: k + 0.28 }));
  const tePts = teScore.map((x, k) => ({ x, y: k + 0.6 }));
  return abs(430, 340,
    <ScatterChart width={247} height={200} margin={{ top: 10, right: 9, bottom: 0, left: 62 }}>
      <XAxis type="number" dataKey="x" domain={[-0.855, 0.895]} ticks={[-0.8, -0.38, 0, 0.4, 0.8]} interval={0} height={17} stroke="#555" tickLine={false} tick={<ETick />} />
      <YAxis type="number" dataKey="y" domain={[-0.14, 4.73]} reversed hide />
      <ReferenceLine segment={[{ x: 0, y: 0.2 }, { x: 0, y: 4.73 }]} stroke="#666" strokeWidth={1} />
      {lincPts.map((p, k) => <ReferenceLine key={`l${k}`} segment={[{ x: 0, y: p.y }, { x: p.x, y: p.y }]} stroke="#d68ddb" strokeWidth={1.8} />)}
      {tePts.map((p, k) => <ReferenceLine key={`t${k}`} segment={[{ x: 0, y: p.y }, { x: p.x, y: p.y }]} stroke="#3cb44b" strokeWidth={1.6} />)}
      <Scatter data={gseaTerms.map((label, k) => ({ x: 0, y: k, label }))} shape={eLabelShape} isAnimationActive={false} />
      <Scatter data={lincPts} shape={makeDot('#b000b8')} isAnimationActive={false} />
      <Scatter data={tePts} shape={makeDot('#1fae3c')} isAnimationActive={false} />
    </ScatterChart>);
};

const PanelF = () => abs(0, 680,
  <ScatterChart width={380} height={215} margin={{ top: 0, right: 17, bottom: 6.25, left: 0 }}>
    <XAxis type="number" dataKey="c" orientation="top" domain={[-0.5, 23.5]} ticks={cancers.map((_, i) => i)} interval={0} height={153.75} axisLine={false} tickLine={false} tick={<CancerTick />} />
    <YAxis type="number" dataKey="r" domain={[-0.5, 1.5]} reversed ticks={[0, 1]} interval={0} width={62} axisLine={false} tickLine={false} tick={<FRowTick />} />
    <Scatter data={fCells} shape={fCellShape} isAnimationActive={false} />
  </ScatterChart>);

const PanelG = () => (
  <>
    {abs(470, 665,
      <BarChart layout="vertical" width={207} height={62} data={oxaTerms.map((term, i) => ({ term, ratio: oxaGeneRatio[i] }))} margin={{ top: 5, right: 3, bottom: 5, left: 0 }} barCategoryGap={0.8}>
        <XAxis type="number" domain={[0, 0.2]} hide />
        <YAxis type="category" dataKey="term" width={165} interval={0} axisLine={false} tickLine={{ stroke: '#666', strokeWidth: 0.6 }} tickSize={3} tickMargin={6} tick={<GTick1 />} />
        <Bar dataKey="ratio" isAnimationActive={false}>
          {oxaPadj.map((p, i) => <Cell key={i} fill={interp(padjStops1, p)} />)}
        </Bar>
      </BarChart>)}
    {abs(470, 800,
      <BarChart layout="vertical" width={207} height={75} data={pdlTerms.map((term, i) => ({ term, ratio: pdlGeneRatio[i] }))} margin={{ top: 6, right: 16, bottom: 7, left: 0 }} barCategoryGap={0.8}>
        <XAxis type="number" domain={[0, 0.1]} hide />
        <YAxis type="category" dataKey="term" width={166} interval={0} axisLine={false} tickLine={{ stroke: '#666', strokeWidth: 0.6 }} tickSize={3} tickMargin={6} tick={<GTick2 />} />
        <Bar dataKey="ratio" isAnimationActive={false}>
          {pdlPadj.map((p, i) => <Cell key={i} fill={interp(padjStops2, p)} />)}
        </Bar>
      </BarChart>)}
  </>
);

/* ================= overlay: titles, legends, colour bars ================= */
const T = (p: { x: number; y: number; s?: number; a?: 'start' | 'middle' | 'end'; w?: number; f?: string; fam?: string; children: React.ReactNode }) => (
  <text x={p.x} y={p.y} fontSize={p.s ?? 9.3} textAnchor={p.a ?? 'middle'} fontWeight={p.w ?? 400} fill={p.f ?? INK} fontFamily={p.fam ?? SANS} dominantBaseline="central">
    {p.children}
  </text>
);
const gradStops = (stops: Stops, min: number, max: number) =>
  stops.map(([v, c], i) => <stop key={i} offset={(v - min) / (max - min)} stopColor={c} />);

const Overlay = () => (
  <svg width={677} height={899} style={{ position: 'absolute', left: 0, top: 0, pointerEvents: 'none' }}>
    <defs>
      <linearGradient id="gPurple" x1="0" x2="1" y1="0" y2="0">{gradStops(purpleStops, 0, 30000)}</linearGradient>
      <linearGradient id="gBlue" x1="0" x2="1" y1="0" y2="0">{gradStops(blueStops, 0.5, 9)}</linearGradient>
      <linearGradient id="gFC" x1="0" x2="0" y1="0" y2="1">
        <stop offset={0} stopColor="#7b3f98" /><stop offset={0.47} stopColor="#ffffff" /><stop offset={1} stopColor="#3f9a40" />
      </linearGradient>
      <linearGradient id="gSurv" x1="0" x2="0" y1="0" y2="1">
        <stop offset={0} stopColor="#2a5c9c" /><stop offset={0.42} stopColor="#fff8f0" /><stop offset={1} stopColor="#f08a1a" />
      </linearGradient>
      <linearGradient id="gPadj" x1="0" x2="1" y1="0" y2="0">
        <stop offset={0} stopColor="#ee1c24" /><stop offset={0.55} stopColor="#c4228c" /><stop offset={1} stopColor="#5a5ab4" />
      </linearGradient>
    </defs>

    {/* panel letters */}
    <T x={6} y={7} s={12} w={700} fam={ARIAL}>a</T>
    <T x={8} y={283} s={12} w={700} fam={ARIAL}>b</T>
    <T x={288} y={283} s={12} w={700} fam={ARIAL}>c</T>
    <T x={288} y={438} s={12} w={700} fam={ARIAL}>d</T>
    <T x={463} y={283} s={12} w={700} fam={ARIAL}>e</T>
    <T x={8} y={673} s={12} w={700} fam={ARIAL}>f</T>
    <T x={489} y={608} s={12} w={700} fam={ARIAL}>g</T>

    {/* panel a legends */}
    <T x={585} y={80} s={9.6}>Relative proportion</T>
    <T x={561} y={91} s={8} f="#444">High</T>
    <T x={591} y={91} s={8} f="#444">Average</T>
    <T x={623} y={91} s={8} f="#444">Low</T>
    <rect x={557.5} y={96.5} width={7} height={7} fill="#444" stroke="#222" strokeWidth={0.5} />
    <rect x={587.5} y={96.5} width={7} height={7} fill="#fff" stroke="#777" strokeWidth={0.6} />
    <rect x={589.5} y={98.5} width={3} height={3} fill="#444" />
    <rect x={619.5} y={96.5} width={7} height={7} fill="#e0e0e0" stroke="#aaa" strokeWidth={0.6} />
    <T x={591} y={124} s={9.6}>TE-gene chimeras (n)</T>
    <T x={549} y={138} s={8.5}>0</T>
    <T x={591} y={138} s={8.5}>15,000</T>
    <T x={633} y={138} s={8.5}>30,000</T>
    <rect x={549} y={147} width={84} height={8} fill="url(#gPurple)" stroke="#444" strokeWidth={0.6} />
    <line x1={591} x2={591} y1={147} y2={149} stroke="#444" strokeWidth={0.6} />
    <T x={591} y={166}>TE-gene chimera</T>
    <T x={591} y={177}>average TPM</T>
    <T x={549} y={190} s={8.5}>0.5</T>
    <T x={592} y={190} s={8.5}>4.5</T>
    <T x={633} y={190} s={8.5}>9.0</T>
    <rect x={549} y={197} width={84} height={10} fill="url(#gBlue)" stroke="#444" strokeWidth={0.6} />
    <line x1={592} x2={592} y1={197} y2={199} stroke="#444" strokeWidth={0.6} />
    <T x={607} y={232}>Total</T>
    <T x={607} y={243}>chimeras (n)</T>

    {/* panel b */}
    <T x={149} y={283} s={9.6}>LTR-chimeras in human organ aging</T>
    <rect x={168} y={340} width={8} height={8} fill="#8e1b1b" />
    <rect x={168} y={353} width={8} height={8} fill="#0a0af5" />
    <T x={180} y={344} s={8} a="start">Decreases over 50</T>
    <T x={180} y={357} s={8} a="start">Increases over 50</T>
    <text x={196} y={634} fontSize={9} textAnchor="middle" fill={INK} fontFamily={SANS} dominantBaseline="central">
      −log<tspan fontSize={6.5} dy={2.5}>10</tspan><tspan dy={-2.5}>(</tspan><tspan fontStyle="italic">P</tspan> value) over versus under 50
    </text>

    {/* panel c */}
    <T x={360} y={283}>TE-chimera usage controls</T>
    <T x={360} y={294}>cognate aortic lincRNA</T>
    <T x={381} y={388}>Normalized</T>
    <T x={381} y={399}>expression (TPM)</T>

    {/* panel d */}
    <T x={382} y={442}>TE-chimera–lincRNA</T>
    <T x={382} y={453}>correlation</T>
    <text transform="translate(289,500) rotate(-90)" fontSize={9.3} textAnchor="middle" fill={INK} fontFamily={SANS} dominantBaseline="central">TE-chimera</text>
    <text transform="translate(300.5,500) rotate(-90)" fontSize={9.3} textAnchor="middle" fill={INK} fontFamily={SANS} dominantBaseline="central">expression (TPM)</text>
    <T x={368} y={563}>LINC02693</T>
    <T x={368} y={574}>expression (TPM)</T>
    <T x={358} y={468} s={8.7} a="start">Bicor = −0.226</T>
    <text x={358} y={480} fontSize={8.7} fill={INK} fontFamily={SANS} dominantBaseline="central">
      <tspan fontStyle="italic">P</tspan> = 7.12 × 10<tspan fontSize={6} dy={-3}>−6</tspan>
    </text>

    {/* panel e */}
    <T x={573} y={283}>GSEA enrichments for</T>
    <T x={573} y={294}>lincRNA or TE-chimera</T>
    <circle cx={501} cy={319} r={4.2} fill="#1fae3c" />
    <T x={512} y={319} s={9.5} a="start">TE-chimera</T>
    <T x={527} y={333} s={9.5}>(ENST00000426261.6)</T>
    <circle cx={607} cy={319} r={4.2} fill="#b000b8" />
    <T x={617} y={319} s={9.5} a="start">LINC02693</T>
    <T x={576} y={548} s={9.5}>Relative enrichment score</T>

    {/* panel f */}
    <T x={212} y={673} s={9.6}>LTR-chimeras increase in tumors and predict worse survival</T>
    <text x={385} y={693} fontSize={9.1} fill={INK} fontFamily={SANS} dominantBaseline="central">
      Avg log<tspan fontSize={6.2} dy={2.5}>2</tspan><tspan dy={-2.5}>FC of</tspan>
    </text>
    <T x={385} y={705} s={9.1} a="start">LTR-chimeras</T>
    <rect x={388} y={722} width={8} height={53} fill="url(#gFC)" />
    <T x={400} y={724} s={8} a="start">1.4</T>
    <T x={402} y={747} s={8} a="start">0</T>
    <T x={399} y={773} s={8} a="start">-0.8</T>
    <T x={422} y={718} s={9.1} a="start">High in</T>
    <T x={422} y={730} s={9.1} a="start">tumor</T>
    <T x={422} y={769} s={9.1} a="start">Low in</T>
    <T x={422} y={781} s={9.1} a="start">tumor</T>
    <T x={370} y={807} s={9.1} a="start">Survival prediction</T>
    <T x={370} y={819} s={9.1} a="start">of LTR-chimeras</T>
    <rect x={387} y={834} width={8} height={53} fill="url(#gSurv)" />
    <T x={400} y={835} s={8} a="start">2</T>
    <T x={400} y={856} s={8} a="start">1</T>
    <T x={401} y={886} s={8} a="start">0</T>
    <T x={409} y={830} s={9.1} a="start">Increased</T>
    <T x={409} y={842} s={9.1} a="start">survival</T>
    <T x={409} y={883} s={9.1} a="start">Decreased</T>
    <T x={409} y={894} s={9.1} a="start">survival</T>

    {/* panel g */}
    <T x={593} y={608}>LTR-chimera exonizations occur in</T>
    <T x={593} y={619}>cancer drug resistance mechanisms</T>
    <T x={608} y={644} s={9}>LTR-exonized genes increased in</T>
    <T x={608} y={655} s={9}>oxaplatin resistance</T>
    <T x={653} y={731} s={9}>Gene ratio</T>
    {[['0.0015', 532], ['0.002', 547.5], ['0.0025', 563]].map(([l, x]) => (
      <text key={String(l)} transform={`translate(${Number(x) - 3},758) rotate(-45)`} fontSize={6.5} fill={INK} fontFamily={SANS}>{l}</text>
    ))}
    <rect x={517} y={762} width={61} height={7} fill="url(#gPadj)" />
    {[532, 547.5, 563].map((x) => <line key={x} x1={x} x2={x} y1={762} y2={769} stroke="#fff" strokeOpacity={0.5} strokeWidth={0.5} />)}
    <text x={585} y={765.5} fontSize={9} fill={INK} fontFamily={SANS} dominantBaseline="central">Adjusted <tspan fontStyle="italic">P</tspan></text>
    <T x={603} y={779} s={9}>LTR-exonized genes increased in</T>
    <T x={603} y={790} s={9}>anti-PDL1 resistance</T>
    <T x={653} y={875} s={9}>Gene ratio</T>
    {[['0.001', 528.5], ['0.002', 546], ['0.003', 563.5]].map(([l, x]) => (
      <text key={String(l)} transform={`translate(${Number(x) - 3},887) rotate(-45)`} fontSize={6.5} fill={INK} fontFamily={SANS}>{l}</text>
    ))}
    <rect x={517} y={891} width={61} height={6} fill="url(#gPadj)" />
    {[528.5, 546, 563.5].map((x) => <line key={x} x1={x} x2={x} y1={891} y2={897} stroke="#fff" strokeOpacity={0.5} strokeWidth={0.5} />)}
    <text x={585} y={894} fontSize={9} fill={INK} fontFamily={SANS} dominantBaseline="central">Adjusted <tspan fontStyle="italic">P</tspan></text>
  </svg>
);

export default function App() {
  return (
    <div style={{ position: 'absolute', left: 0, top: 0, width: 677, height: 899, background: '#ffffff', fontFamily: SANS, overflow: 'hidden' }}>
      <PanelA />
      <PanelB />
      <PanelC />
      <PanelD />
      <PanelE />
      <PanelF />
      <PanelG />
      <Overlay />
    </div>
  );
}
